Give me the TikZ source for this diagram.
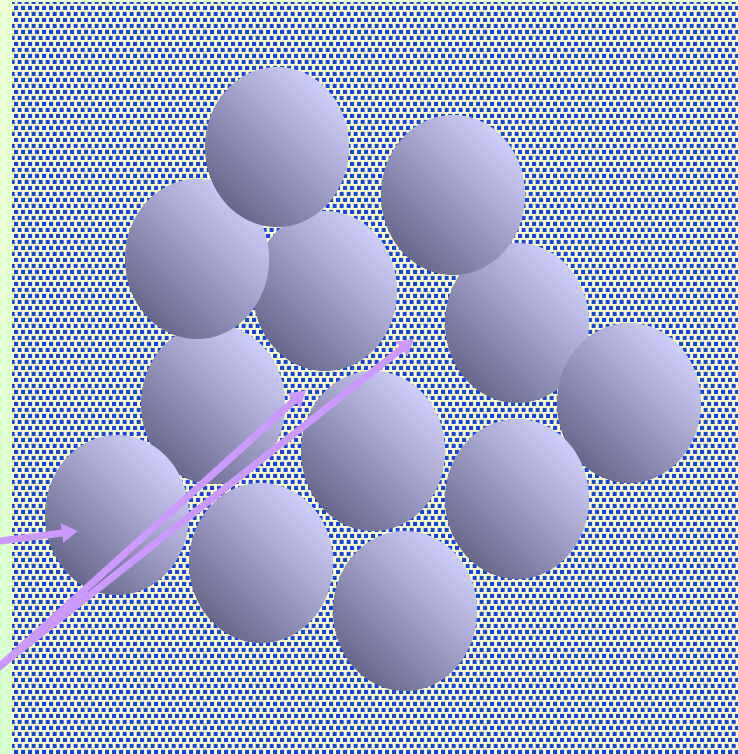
\documentclass[tikz,border=0pt]{standalone}
\usepackage{xcolor}
\usetikzlibrary{positioning}
\usetikzlibrary{arrows.meta}
\usetikzlibrary{shapes.geometric, patterns}

\definecolor{framegreen}{RGB}{236,255,212}
\definecolor{framegreenlow}{RGB}{214,255,208}
\definecolor{bgyellow}{RGB}{255,255,204}
\definecolor{dotblue}{RGB}{20,70,220}
\definecolor{grainlight}{RGB}{206,206,250}
\definecolor{graindark}{RGB}{104,104,140}
\definecolor{arrowlilac}{RGB}{204,153,255}

\pgfdeclarepatternformonly{bluedots}{\pgfpoint{-1bp}{-1bp}}{\pgfpoint{8bp}{13bp}}{\pgfpoint{7bp}{12bp}}{
  \pgfpathrectangle{\pgfpoint{0bp}{0bp}}{\pgfpoint{4bp}{4bp}}
  \pgfpathrectangle{\pgfpoint{3.5bp}{6bp}}{\pgfpoint{4bp}{4bp}}
  \pgfusepath{fill}}

\begin{document}
\begin{tikzpicture}[
			x=1bp, y=-1bp,
			grain/.style = {ellipse, minimum width=144bp, minimum height=160bp, inner sep=0pt,
					top color=grainlight, bottom color=graindark, shading angle=-45},
			edge/.style  = {-{Triangle[length=16bp,width=18bp]}, line width=7bp, draw=arrowlilac}
			]
			\useasboundingbox (0,0) rectangle (738,754);

			% frame and dotted ground
			\shade[top color=framegreen, bottom color=framegreenlow] (0,0) rectangle (12,754);
			\fill[framegreen] (12,0) rectangle (738,3);
			\fill[bgyellow] (12,3) rectangle (738,754);
			\fill[pattern=bluedots, pattern color=dotblue] (12,3) rectangle (738,754);

			% grains
			\foreach \n/\x/\y in {7/213/404, 3/325/291, 2/197/259, 1/277/147,
					5/517/323, 4/453/195, 6/629/403, 8/373/451,
					9/517/499, 11/261/563, 10/117/515, 12/405/611}
			\node[grain] (g\n) at (\x,\y) {};

			% arrows
			\coordinate (inA) at (-4,541.5);
			\coordinate (tipA) at (78,531);
			\coordinate (inB) at (-6,671.5);
			\coordinate (tipB) at (306,390);
			\coordinate (inC) at (-6,670.7);
			\coordinate (tipC) at (414,339);
			\foreach \u/\v in {inA/tipA, inB/tipB, inC/tipC}
			\draw[edge] (\u) -- (\v);
		\end{tikzpicture}
\end{document}
